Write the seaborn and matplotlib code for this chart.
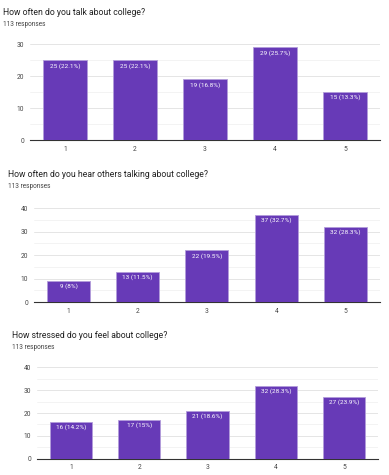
import pandas as pd
import matplotlib.pyplot as plt
import seaborn as sns
from matplotlib.ticker import MultipleLocator

sns.set_theme(style="white")
plt.rcParams['font.family'] = ['Roboto', 'DejaVu Sans']

options = ["1", "2", "3", "4", "5"]

talk_counts = [25, 25, 19, 29, 15]
talk_pct = ["22.1%", "22.1%", "16.8%", "25.7%", "13.3%"]

hear_counts = [9, 13, 22, 37, 32]
hear_pct = ["8%", "11.5%", "19.5%", "32.7%", "28.3%"]

stress_counts = [16, 17, 21, 32, 27]
stress_pct = ["14.2%", "15%", "18.6%", "28.3%", "23.9%"]

questions = [
    "How often do you talk about college?",
    "How often do you hear others talking about college?",
    "How stressed do you feel about college?",
]
responses = "113 responses"

purple = "#673ab7"

fig = plt.figure(figsize=(3.89, 4.75), dpi=100)

# axes boxes (left, bottom, width, height), title x, title y
panels = [
    ([0.077, 0.705, 0.900, 0.202], 30, talk_counts, talk_pct, 0.008, 0.973),
    ([0.087, 0.364, 0.890, 0.198], 40, hear_counts, hear_pct, 0.020, 0.632),
    ([0.095, 0.034, 0.877, 0.193], 40, stress_counts, stress_pct, 0.031, 0.293),
]

for (box, ymax, counts, pcts, tx, ty), q in zip(panels, questions):
    ax = fig.add_axes(box)
    df = pd.DataFrame({"option": options, "count": counts})
    sns.barplot(data=df, x="option", y="count", color=purple, saturation=1,
                width=0.62, edgecolor="#b39ddb", linewidth=0.6, ax=ax, zorder=3)
    ax.set_ylim(0, ymax)
    ax.set_xlim(-0.5, 4.5)
    ax.yaxis.set_major_locator(MultipleLocator(10))
    ax.yaxis.set_minor_locator(MultipleLocator(5))
    ax.grid(axis="y", which="major", color="#e0e0e0", linewidth=0.6, zorder=0)
    ax.grid(axis="y", which="minor", color="#efefef", linewidth=0.5, zorder=0)
    ax.set_xlabel("")
    ax.set_ylabel("")
    for s in ["top", "right", "left"]:
        ax.spines[s].set_visible(False)
    ax.spines["bottom"].set_color("#333333")
    ax.spines["bottom"].set_linewidth(0.8)
    ax.tick_params(axis="both", which="both", length=0, labelsize=4.8,
                   labelcolor="#444444", pad=4)
    for i, (c, p) in enumerate(zip(counts, pcts)):
        ax.text(i, c - 0.027 * ymax, f"{c} ({p})", ha="center", va="top",
                color="white", fontsize=4.6)
    fig.text(tx, ty, q, fontsize=6.2, color="#212121", va="center", ha="left")
    fig.text(tx, ty - 0.024, responses, fontsize=4.7, color="#444444",
             va="center", ha="left")

fig.savefig("out.png", dpi=100)
